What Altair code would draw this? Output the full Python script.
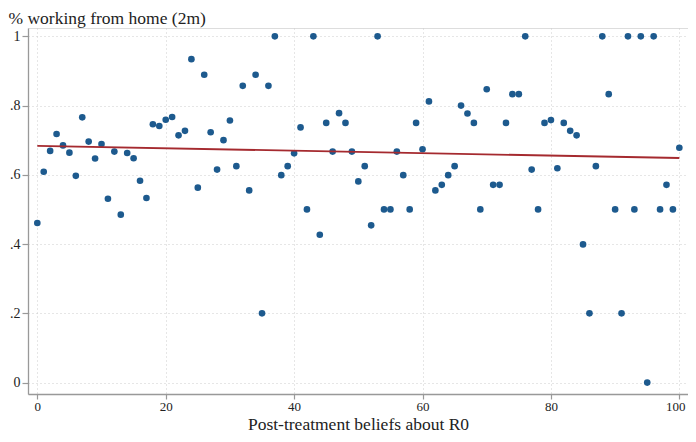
import altair as alt
import pandas as pd

beliefs = list(range(0, 101))
wfh = [
    0.461, 0.609, 0.669, 0.718, 0.685, 0.664, 0.597, 0.766, 0.696, 0.647,
    0.689, 0.531, 0.667, 0.485, 0.663, 0.648, 0.583, 0.533, 0.746, 0.741,
    0.759, 0.767, 0.714, 0.727, 0.934, 0.563, 0.889, 0.723, 0.615, 0.700,
    0.757, 0.625, 0.857, 0.555, 0.889, 0.200, 0.857, 1.000, 0.599, 0.625,
    0.662, 0.737, 0.500, 1.000, 0.427, 0.750, 0.667, 0.778, 0.750, 0.667,
    0.581, 0.625, 0.454, 1.000, 0.500, 0.500, 0.667, 0.599, 0.500, 0.750,
    0.674, 0.812, 0.555, 0.571, 0.599, 0.625, 0.800, 0.777, 0.750, 0.500,
    0.847, 0.571, 0.571, 0.750, 0.833, 0.833, 1.000, 0.615, 0.500, 0.750,
    0.758, 0.619, 0.750, 0.727, 0.714, 0.399, 0.200, 0.625, 1.000, 0.833,
    0.500, 0.200, 1.000, 0.500, 1.000, 0.000, 1.000, 0.500, 0.571, 0.500,
    0.678,
]
x_ticks = [0, 20, 40, 60, 80, 100]
y_ticks = [0, 0.2, 0.4, 0.6, 0.8, 1]

df = pd.DataFrame({"x": beliefs, "y": wfh})

FONT = "Liberation Serif"
label_expr = "datum.value == 0 ? '0' : datum.value == 1 ? '1' : replace(format(datum.value, '.1f'), '0.', '.')"

xscale = alt.Scale(domain=[-1.45, 101.35], nice=False, zero=False)
yscale = alt.Scale(domain=[-0.033, 1.024], nice=False, zero=False)

x_axis = alt.Axis(
    values=x_ticks, title="Post-treatment beliefs about R0", titleFont=FONT,
    titleFontSize=17.5, titleFontWeight="normal", titleColor="#222",
    titleBaseline="alphabetic", titleY=35,
    labelFont=FONT, labelFontSize=13, labelColor="#222",
    labelPadding=1, labelBound=False,
    labelOffset={"condition": {"test": "datum.value == 100", "value": -4}, "value": 0},
    tickSize=5, tickColor="#999", domainColor="#999",
    domainWidth=1.3, tickWidth=1.2, grid=True, gridColor="#cccccc",
    gridDash=[1, 3], gridWidth=1,
)
y_axis = alt.Axis(
    values=y_ticks, title="% working from home (2m)", titleFont=FONT,
    titleFontSize=17.5, titleFontWeight="normal", titleColor="#222",
    titleAngle=0, titleAlign="left", titleBaseline="alphabetic",
    titleX=-20, titleY=-5, labelExpr=label_expr, labelFont=FONT,
    labelFontSize=14, labelColor="#222", labelPadding=2, tickSize=6,
    tickColor="#999", domainColor="#999", domainWidth=1.3, tickWidth=1.2,
    grid=True, gridColor="#cccccc", gridDash=[1, 3], gridWidth=1,
)

base = alt.Chart(df)
points = base.mark_circle(size=44, color="#1d5a8e", opacity=1).encode(
    x=alt.X("x:Q", scale=xscale, axis=x_axis),
    y=alt.Y("y:Q", scale=yscale, axis=y_axis),
)
fit = base.transform_regression("x", "y").mark_line(
    color="#a52a2f", strokeWidth=1.8
).encode(x=alt.X("x:Q", scale=xscale), y=alt.Y("y:Q", scale=yscale))

chart = (
    alt.layer(points, fit)
    .properties(
        width=660, height=366, autosize=alt.AutoSizeParams(type="none"),
        padding={"left": 20, "top": 20, "right": 0, "bottom": 40},
    )
    .configure_view(stroke=None)
    .configure(background="white")
)

chart.save("out.html", embed_options={"renderer": "svg", "actions": False})
